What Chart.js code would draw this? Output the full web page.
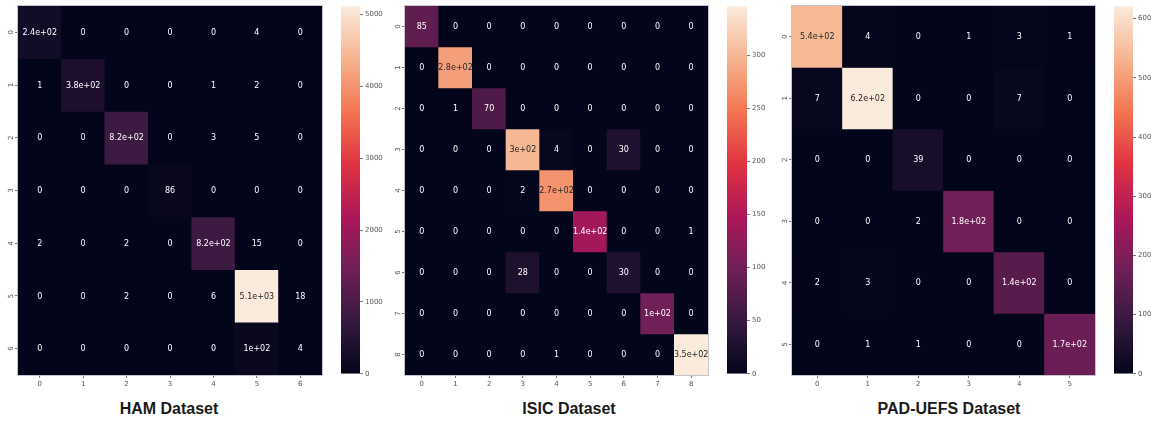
<!DOCTYPE html>
<html>
<head>
<meta charset="utf-8">
<script src="https://cdn.jsdelivr.net/npm/chart.js@4.4.1/dist/chart.umd.min.js"></script>
<style>
    html, body { margin: 0; padding: 0; background: #ffffff; overflow: hidden; }
    #page { position: relative; width: 1151px; height: 421px; }
    canvas { position: absolute; top: 0; }
    .title {
        position: absolute; top: 401px; width: 220px; text-align: center;
        font: bold 16px "Liberation Sans", Arial, sans-serif; line-height: 16px; color: #1a1a1a;
    }
</style>
</head>
<body>
<div id="page">
    <canvas id="hamMap" width="322" height="395" style="left:2px"></canvas>
    <canvas id="hamBar" width="46" height="380" style="left:341px"></canvas>
    <canvas id="isicMap" width="321" height="395" style="left:389px"></canvas>
    <canvas id="isicBar" width="47" height="380" style="left:727px"></canvas>
    <canvas id="padMap" width="321" height="395" style="left:776px"></canvas>
    <canvas id="padBar" width="37" height="380" style="left:1114px"></canvas>
    <div class="title" style="left:59px">HAM Dataset</div>
    <div class="title" style="left:459px">ISIC Dataset</div>
    <div class="title" style="left:839px">PAD-UEFS Dataset</div>
</div>
<script>
// Confusion matrices (rows = true class, cols = predicted class)
const hamLabels = ['0', '1', '2', '3', '4', '5', '6'];
const hamCounts = [
    [240, 0, 0, 0, 0, 4, 0],
    [1, 380, 0, 0, 1, 2, 0],
    [0, 0, 820, 0, 3, 5, 0],
    [0, 0, 0, 86, 0, 0, 0],
    [2, 0, 2, 0, 820, 15, 0],
    [0, 0, 2, 0, 6, 5115, 18],
    [0, 0, 0, 0, 0, 100, 4]
];
const hamBarTicks = [0, 1000, 2000, 3000, 4000, 5000];

const isicLabels = ['0', '1', '2', '3', '4', '5', '6', '7', '8'];
const isicCounts = [
    [85, 0, 0, 0, 0, 0, 0, 0, 0],
    [0, 280, 0, 0, 0, 0, 0, 0, 0],
    [0, 1, 70, 0, 0, 0, 0, 0, 0],
    [0, 0, 0, 300, 4, 0, 30, 0, 0],
    [0, 0, 0, 2, 270, 0, 0, 0, 0],
    [0, 0, 0, 0, 0, 140, 0, 0, 1],
    [0, 0, 0, 28, 0, 0, 30, 0, 0],
    [0, 0, 0, 0, 0, 0, 0, 100, 0],
    [0, 0, 0, 0, 1, 0, 0, 0, 346]
];
const isicBarTicks = [0, 50, 100, 150, 200, 250, 300];

const padLabels = ['0', '1', '2', '3', '4', '5'];
const padCounts = [
    [540, 4, 0, 1, 3, 1],
    [7, 621, 0, 0, 7, 0],
    [0, 0, 39, 0, 0, 0],
    [0, 0, 2, 180, 0, 0],
    [2, 3, 0, 0, 140, 0],
    [0, 1, 1, 0, 0, 170]
];
const padBarTicks = [0, 100, 200, 300, 400, 500, 600];

// seaborn "rocket" colormap, sampled
const rocketStops = [
    [0 / 7, [3, 5, 26]],
    [1 / 7, [53, 25, 62]],
    [2 / 7, [112, 31, 87]],
    [3 / 7, [173, 23, 89]],
    [4 / 7, [225, 51, 66]],
    [5 / 7, [243, 118, 81]],
    [6 / 7, [246, 180, 143]],
    [7 / 7, [250, 235, 221]]
];

const tickFont = { family: "'DejaVu Sans', sans-serif", size: 7 };
const tickColor = '#555555';

function rocketRgb(t) {
    t = Math.max(0, Math.min(1, t));
    for (let i = 1; i < rocketStops.length; i++) {
        const [p1, c1] = rocketStops[i];
        const [p0, c0] = rocketStops[i - 1];
        if (t <= p1) {
            const f = (t - p0) / (p1 - p0);
            return c0.map((c, k) => Math.round(c + (c1[k] - c) * f));
        }
    }
    return rocketStops[rocketStops.length - 1][1];
}

function rgbStr(c) {
    return `rgb(${c[0]}, ${c[1]}, ${c[2]})`;
}

// same rule seaborn uses to pick annotation colour
function luminance(c) {
    const lin = c.map(v => {
        v = v / 255;
        return v <= 0.03928 ? v / 12.92 : Math.pow((v + 0.055) / 1.055, 2.4);
    });
    return 0.2126 * lin[0] + 0.7152 * lin[1] + 0.0722 * lin[2];
}

// python-style '.2g'
function fmtG(v) {
    if (v === 0) return '0';
    const exp = Math.floor(Math.log10(Math.abs(v)));
    if (exp >= 2) {
        const m = (v / Math.pow(10, exp)).toFixed(1).replace(/\.0$/, '');
        return m + 'e+' + String(exp).padStart(2, '0');
    }
    return String(Number(v.toPrecision(2)));
}

// Fill the plot area dark so no seams show between cells, then a light frame
const cellBackdrop = {
    id: 'cellBackdrop',
    beforeDatasetsDraw(chart) {
        const { ctx, chartArea: a } = chart;
        ctx.save();
        ctx.fillStyle = rgbStr(rocketStops[0][1]);
        ctx.fillRect(a.left, a.top, a.right - a.left, a.bottom - a.top);
        ctx.restore();
    },
    afterDatasetsDraw(chart) {
        const { ctx, chartArea: a } = chart;
        ctx.save();
        ctx.strokeStyle = 'rgba(190, 190, 200, 0.9)';
        ctx.lineWidth = 1;
        ctx.strokeRect(a.left - 0.5, a.top - 0.5, a.right - a.left + 1, a.bottom - a.top + 1);
        ctx.restore();
    }
};

// Write each count in the middle of its cell, and the rotated row labels
const cellLabels = {
    id: 'cellLabels',
    afterDatasetsDraw(chart) {
        const ctx = chart.ctx;
        ctx.save();
        ctx.font = "8px 'DejaVu Sans', sans-serif";
        ctx.textAlign = 'center';
        ctx.textBaseline = 'middle';
        chart.data.datasets.forEach((ds, di) => {
            const meta = chart.getDatasetMeta(di);
            meta.data.forEach((bar, i) => {
                const v = ds.counts[i];
                ctx.fillStyle = luminance(ds.rgb[i]) > 0.408 ? '#262626' : '#ffffff';
                ctx.fillText(fmtG(v), bar.x, (bar.y + bar.base) / 2 + 0.5);
            });
        });

        const ys = chart.scales.y;
        ctx.font = "7px 'DejaVu Sans', sans-serif";
        ctx.fillStyle = tickColor;
        chart.data.rowLabels.forEach((lab, i) => {
            const y = ys.getPixelForValue(i + 0.5);
            ctx.save();
            ctx.translate(chart.chartArea.left - 7, y);
            ctx.rotate(-Math.PI / 2);
            ctx.fillText(lab, 0, 0);
            ctx.restore();
        });
        ctx.restore();
    }
};

function makeHeatmap(id, labels, counts) {
    const vmax = Math.max(...counts.flat());
    const datasets = counts.map((row, r) => {
        const rgb = row.map(v => rocketRgb(v / vmax));
        return {
            data: row.map(() => [r, r + 1]),
            counts: row,
            rgb: rgb,
            backgroundColor: rgb.map(rgbStr),
            borderWidth: 0,
            grouped: false,
            barPercentage: 1,
            categoryPercentage: 1
        };
    });

    return new Chart(document.getElementById(id), {
        type: 'bar',
        data: { labels: labels, rowLabels: labels, datasets: datasets },
        options: {
            responsive: false,
            animation: false,
            layout: { padding: { top: 6, right: 2, left: 0, bottom: 0 } },
            plugins: { legend: { display: false }, tooltip: { enabled: false } },
            scales: {
                x: {
                    type: 'category',
                    offset: true,
                    grid: { offset: false, drawOnChartArea: false, drawTicks: true, tickLength: 3, color: '#777777' },
                    border: { display: false },
                    ticks: { font: tickFont, color: tickColor, padding: 2, maxRotation: 0 },
                    afterFit(scale) { scale.height = 20; }
                },
                y: {
                    type: 'linear',
                    reverse: true,
                    min: 0,
                    max: labels.length,
                    grid: { drawOnChartArea: false, drawTicks: true, tickLength: 3, color: '#777777' },
                    border: { display: false },
                    afterBuildTicks(scale) {
                        scale.ticks = labels.map((_, i) => ({ value: i + 0.5 }));
                    },
                    ticks: { display: false },
                    afterFit(scale) { scale.width = 16; }
                }
            }
        },
        plugins: [cellBackdrop, cellLabels]
    });
}

function makeColorbar(id, counts, ticks) {
    const vmax = Math.max(...counts.flat());
    return new Chart(document.getElementById(id), {
        type: 'bar',
        data: {
            labels: [''],
            datasets: [{
                data: [[0, vmax]],
                borderWidth: 0,
                barPercentage: 1,
                categoryPercentage: 1,
                backgroundColor(c) {
                    const a = c.chart.chartArea;
                    if (!a) return rgbStr(rocketStops[0][1]);
                    const g = c.chart.ctx.createLinearGradient(0, a.bottom, 0, a.top);
                    rocketStops.forEach(([p, col]) => g.addColorStop(p, rgbStr(col)));
                    return g;
                }
            }]
        },
        options: {
            responsive: false,
            animation: false,
            layout: { padding: { top: 6, bottom: 5, left: 0, right: 0 } },
            plugins: { legend: { display: false }, tooltip: { enabled: false } },
            scales: {
                x: { display: false },
                y: {
                    position: 'right',
                    min: 0,
                    max: vmax,
                    afterBuildTicks(scale) {
                        scale.ticks = ticks.map(v => ({ value: v }));
                    },
                    grid: { drawOnChartArea: false, drawTicks: true, tickLength: 3, color: '#777777' },
                    border: { display: false },
                    ticks: { font: tickFont, color: tickColor, padding: 2, callback: v => String(v) },
                    afterFit(scale) { scale.width = id === 'padBar' ? 18 : 27; }
                }
            }
        }
    });
}

makeHeatmap('hamMap', hamLabels, hamCounts);
makeColorbar('hamBar', hamCounts, hamBarTicks);
makeHeatmap('isicMap', isicLabels, isicCounts);
makeColorbar('isicBar', isicCounts, isicBarTicks);
makeHeatmap('padMap', padLabels, padCounts);
makeColorbar('padBar', padCounts, padBarTicks);
</script>
</body>
</html>
